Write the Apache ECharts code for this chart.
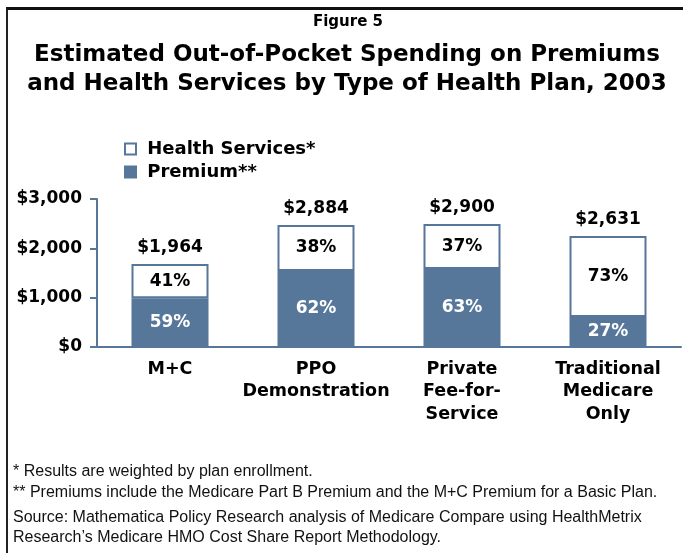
<!DOCTYPE html>
<html>
<head>
<meta charset="utf-8">
<script src="https://cdn.jsdelivr.net/npm/echarts@6/dist/echarts.min.js"></script>
<style>
html,body{margin:0;padding:0;background:#fff;}
#wrap{position:relative;width:683px;height:553px;}
#chart{position:absolute;left:0;top:0;width:683px;height:553px;}
#frame{position:absolute;left:6px;top:7px;width:700px;height:560px;border-top:3px solid #111;border-left:2px solid #222;pointer-events:none;}
</style>
</head>
<body>
<div id="wrap"><div id="chart"></div><div id="frame"></div></div>
<script>
// Categories and values (bar heights as drawn in the figure, in dollars)
const categories = ['M+C', 'PPO\nDemonstration', 'Private\nFee-for-\nService', 'Traditional\nMedicare\nOnly'];
const premium = [990, 1540, 1580, 608];
const healthServices = [690, 932, 912, 1642];
const premiumPct = ['59%', '62%', '63%', '27%'];
const servicesPct = ['41%', '38%', '37%', '73%'];
const totalLabels = ['$1,964', '$2,884', '$2,900', '$2,631'];
const yTicks = [0, 1000, 2000, 3000];

const BLUE = '#56779a';
const BOLD = '"DejaVu Sans", "Liberation Sans", Arial, sans-serif';
const REG = '"Liberation Sans", Arial, sans-serif';

const totals = premium.map((v, i) => v + healthServices[i]);

const chart = echarts.init(document.getElementById('chart'), null, {renderer: 'canvas'});
chart.setOption({
  animation: false,
  textStyle: {fontFamily: BOLD},
  title: [
    {text: 'Figure 5', left: 343, textAlign: 'center', top: 10,
     textStyle: {fontFamily: BOLD, fontSize: 15, fontWeight: 'bold', color: '#000'}},
    {text: 'Estimated Out-of-Pocket Spending on Premiums\nand Health Services by Type of Health Plan, 2003',
     left: 342, textAlign: 'center', top: 36,
     textStyle: {fontFamily: BOLD, fontSize: 23, fontWeight: 'bold', color: '#000', lineHeight: 29, align: 'center'}},
    {text: '* Results are weighted by plan enrollment.\n** Premiums include the Medicare Part B Premium and the M+C Premium for a Basic Plan.',
     left: 8, top: 456,
     textStyle: {fontFamily: REG, fontSize: 16, fontWeight: 'normal', color: '#111', lineHeight: 21}},
    {text: 'Source: Mathematica Policy Research analysis of Medicare Compare using HealthMetrix\nResearch\u2019s Medicare HMO Cost Share Report Methodology.',
     left: 8, top: 503,
     textStyle: {fontFamily: REG, fontSize: 16, fontWeight: 'normal', color: '#111', lineHeight: 20}}
  ],
  legend: {
    orient: 'vertical', left: 119, top: 135, itemWidth: 11, itemHeight: 11, itemGap: 5,
    icon: 'rect',
    data: ['Health Services*', 'Premium**'],
    formatter: n => ' ' + n,
    textStyle: {fontFamily: BOLD, fontSize: 18, fontWeight: 'bold', color: '#000'}
  },
  grid: {left: 97, right: 2, top: 199, bottom: 206},
  xAxis: {
    type: 'category', data: categories,
    axisLine: {lineStyle: {color: BLUE, width: 2}},
    axisTick: {show: false},
    axisLabel: {fontFamily: BOLD, fontSize: 17.5, fontWeight: 'bold', color: '#000', lineHeight: 22.5, margin: 11, interval: 0}
  },
  yAxis: {
    type: 'value', min: 0, max: 3000, interval: 1000,
    axisLine: {show: true, lineStyle: {color: BLUE, width: 2}},
    axisTick: {show: true, length: 7, lineStyle: {color: BLUE, width: 2}},
    splitLine: {show: false},
    axisLabel: {fontFamily: BOLD, fontSize: 17, fontWeight: 'bold', color: '#000', margin: 15,
      formatter: v => yTicks.includes(v) ? '$' + v.toLocaleString('en-US') : ''}
  },
  series: [
    {name: 'Premium**', type: 'bar', stack: 'total', barWidth: 77, data: premium,
     itemStyle: {color: BLUE, borderColor: BLUE, borderWidth: 2},
     label: {show: true, position: 'inside', fontFamily: BOLD, fontSize: 17, fontWeight: 'bold', color: '#fff',
       formatter: p => premiumPct[p.dataIndex]}},
    {name: 'Health Services*', type: 'bar', stack: 'total', barWidth: 77, data: healthServices,
     itemStyle: {color: '#fff', borderColor: BLUE, borderWidth: 2},
     label: {show: true, position: 'inside', fontFamily: BOLD, fontSize: 17, fontWeight: 'bold', color: '#000',
       formatter: p => servicesPct[p.dataIndex]}},
    {name: 'total', type: 'scatter', data: totals, symbolSize: 0.01, silent: true,
     itemStyle: {opacity: 1, color: 'rgba(0,0,0,0)'},
     label: {show: true, position: 'top', distance: 8, fontFamily: BOLD, fontSize: 17, fontWeight: 'bold', color: '#000',
       formatter: p => totalLabels[p.dataIndex]}}
  ]
});
</script>
</body>
</html>
